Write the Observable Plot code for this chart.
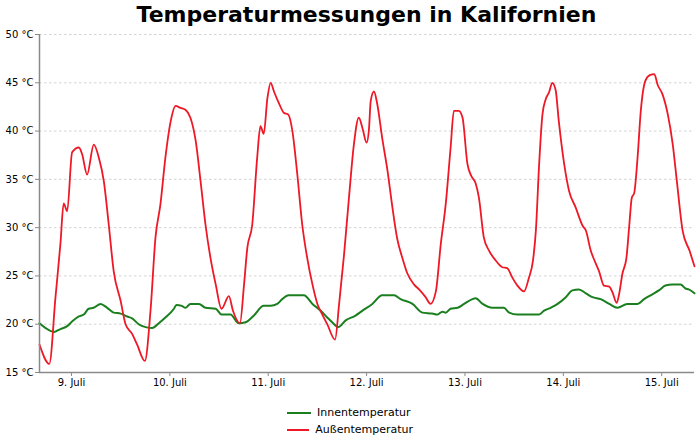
<!DOCTYPE html>
<html>
<head>
<meta charset="utf-8">
<script src="https://cdn.jsdelivr.net/npm/d3@7"></script>
<script src="https://cdn.jsdelivr.net/npm/@observablehq/plot@0.6"></script>
<style>
  html, body { margin: 0; padding: 0; background: #fff; }
  body { width: 700px; height: 445px; font-family: "DejaVu Sans", sans-serif; }
  #title { height: 28px; line-height: 30px; padding-left: 39px; padding-right: 6px;
           text-align: center; font-weight: bold; font-size: 22px; color: #000; }
  #legend { margin-top: 8px; display: flex; flex-direction: column; align-items: center; font-size: 11px; color: #000; }
  #legend .row { height: 17px; line-height: 17px; display: flex; align-items: center; width: 126px; }
  #legend svg { margin-right: 6px; }
</style>
</head>
<body>
<div id="title">Temperaturmessungen in Kalifornien</div>
<div id="chart"></div>
<div id="legend"></div>
<script>
// Stunden relativ zu 9. Juli 00:00
const startDatum = Date.UTC(2023, 6, 9);
const tagesLabels = ["9. Juli", "10. Juli", "11. Juli", "12. Juli", "13. Juli", "14. Juli", "15. Juli"];
const serienNamen = ["Innentemperatur", "Außentemperatur"];
const serienFarben = ["#1a7f1e", "#ee1826"];

const innenStunden = [-7.8,-6.3,-4.3,-2.7,-1.05,0.2,1.8,3.0,4.2,5.4,7.1,8.7,10.3,12.0,13.6,14.8,16.4,18.1,19.7,21.3,22.9,25.0,25.6,26.9,27.8,29.0,31.1,32.7,35.2,36.6,38.8,40.8,42.5,44.5,46.9,48.6,50.2,51.4,53.0,56.7,58.8,60.8,62.4,63.6,65.1,66.9,69.3,71.0,73.4,75.8,78.7,80.3,83.2,85.6,88.0,89.3,90.5,91.3,92.5,94.2,95.8,97.8,98.6,100.3,102.7,105.5,106.8,108.8,114.1,115.3,116.9,118.6,120.6,122.2,123.8,125.5,127.1,129.1,131.2,133.2,135.6,138.1,139.7,141.7,143.3,144.9,146.6,148.6,149.8,150.6,152.0];
const innenWerte = [20.1,19.6,19.2,19.5,19.8,20.3,20.8,21.0,21.6,21.7,22.1,21.7,21.2,21.1,20.8,20.6,20.0,19.7,19.6,20.1,20.7,21.6,22.0,21.9,21.7,22.1,22.1,21.7,21.6,21.0,21.0,20.1,20.2,20.9,21.9,21.9,22.1,22.6,23.0,23.0,22.1,21.4,20.7,20.2,19.7,20.4,20.9,21.4,22.1,23.0,23.0,22.6,22.1,21.2,21.1,21.0,21.3,21.2,21.6,21.7,22.1,22.6,22.7,22.1,21.7,21.7,21.2,21.0,21.0,21.4,21.7,22.1,22.8,23.5,23.6,23.2,22.8,22.6,22.1,21.7,22.1,22.1,22.6,23.1,23.5,24.0,24.1,24.1,23.7,23.6,23.2];

const aussenStunden = [-7.8,-5.4,-3.9,-2.7,-1.9,-1.05,0.16,1.8,2.6,3.8,5.45,6.7,7.9,9.1,10.3,12.0,13.2,14.8,16.0,17.9,19.3,20.5,21.7,22.9,24.2,25.4,26.6,27.8,29.0,30.3,31.5,32.7,33.9,35.2,36.6,38.4,39.4,41.1,42.1,42.9,44.1,45.3,46.1,46.9,47.8,48.6,49.4,50.6,51.8,52.9,53.9,55.1,56.3,57.5,58.8,60.0,61.2,62.4,64.3,65.3,66.5,67.7,68.9,70.1,71.0,72.0,72.6,73.0,73.8,74.6,75.8,77.1,78.3,79.5,80.7,81.9,83.6,84.8,86.4,87.6,88.9,90.1,91.3,92.5,93.3,94.5,95.4,96.6,97.6,98.6,99.4,100.6,101.9,103.5,105.1,106.3,107.6,108.8,110.4,111.6,112.6,113.3,114.1,114.9,115.7,116.5,117.3,118.1,118.9,120.2,121.4,123.0,124.7,125.5,126.7,127.5,128.7,129.9,131.2,132.0,133.0,133.6,134.4,135.4,136.1,136.7,137.3,138.1,138.9,140.0,141.1,142.2,143.0,144.2,145.5,146.7,147.7,149.1,150.8,152.0];
const aussenWerte = [17.9,15.9,22.8,28.3,32.5,31.7,37.8,38.3,37.6,35.5,38.6,37.2,34.8,30.3,25.5,22.4,20.0,19.0,17.9,16.2,21.5,29.0,32.4,37.2,41.0,42.6,42.4,42.2,41.4,39.0,34.8,30.3,26.9,24.1,21.6,22.9,21.4,20.1,24.1,27.9,30.3,37.2,40.5,39.7,43.4,45.0,44.1,42.9,41.9,41.7,40.0,35.5,30.3,26.9,24.1,22.1,21.0,20.0,18.4,22.1,27.2,33.1,38.6,41.4,40.3,38.8,40.3,43.1,44.1,42.8,39.3,35.9,32.1,28.8,26.9,25.3,24.1,23.6,22.8,22.1,23.4,28.3,32.4,38.3,42.1,42.1,41.4,36.6,35.3,34.6,33.1,29.0,27.6,26.6,25.9,25.8,24.8,24.0,23.4,24.8,26.6,29.7,36.6,41.7,43.3,44.0,45.0,44.3,41.0,36.6,33.8,32.1,30.2,29.7,27.6,26.7,25.5,24.0,23.9,23.3,22.2,23.1,25.2,26.9,30.3,33.1,33.6,37.2,42.1,45.2,45.8,45.9,44.8,43.8,41.7,38.6,34.8,29.7,27.6,26.0];

const yTicks = [15, 20, 25, 30, 35, 40, 45, 50];

const zeit = h => new Date(startDatum + h * 3600000);
const innen = innenStunden.map((h, i) => ({t: zeit(h), v: innenWerte[i], s: serienNamen[0]}));
const aussen = aussenStunden.map((h, i) => ({t: zeit(h), v: aussenWerte[i], s: serienNamen[1]}));
const xDomain = d3.extent(aussenStunden).map(zeit);
const tagTicks = tagesLabels.map((_, i) => zeit(i * 24));
const labelFor = new Map(tagTicks.map((d, i) => [+d, tagesLabels[i]]));

const axisGrey = "#8a8a8a";

const chart = Plot.plot({
  width: 700,
  height: 368,
  marginTop: 6,
  marginBottom: 24,
  marginLeft: 39,
  marginRight: 6,
  style: {fontFamily: "DejaVu Sans, sans-serif", fontSize: "10px", color: "#000", background: "#fff", overflow: "visible"},
  x: {type: "utc", domain: xDomain},
  y: {domain: [15, 50]},
  marks: [
    Plot.gridY(yTicks, {stroke: "#c8c8c8", strokeOpacity: 1, strokeDasharray: "2.5,2.5", strokeWidth: 0.8}),
    Plot.axisY(yTicks, {tickSize: 4, tickPadding: 2, stroke: axisGrey, fill: "#000", tickFormat: d => d + " °C", label: null}),
    Plot.axisX(tagTicks, {tickSize: 4, tickPadding: 2, stroke: axisGrey, fill: "#000", tickFormat: d => labelFor.get(+d), label: null}),
    Plot.line(innen, {x: "t", y: "v", stroke: serienFarben[0], strokeWidth: 2, curve: "monotone-x"}),
    Plot.line(aussen, {x: "t", y: "v", stroke: serienFarben[1], strokeWidth: 1.8, curve: "monotone-x"}),
    Plot.ruleX([xDomain[0]], {stroke: axisGrey, strokeWidth: 1.5}),
    Plot.ruleY([15], {stroke: axisGrey, strokeWidth: 1.5})
  ]
});
document.getElementById("chart").appendChild(chart);

const legend = document.getElementById("legend");
serienNamen.forEach((name, i) => {
  const row = document.createElement("div");
  row.className = "row";
  row.innerHTML = `<svg width="24" height="4"><line x1="0" x2="24" y1="2" y2="2" stroke="${serienFarben[i]}" stroke-width="2"/></svg><span>${name}</span>`;
  legend.appendChild(row);
});
</script>
</body>
</html>
